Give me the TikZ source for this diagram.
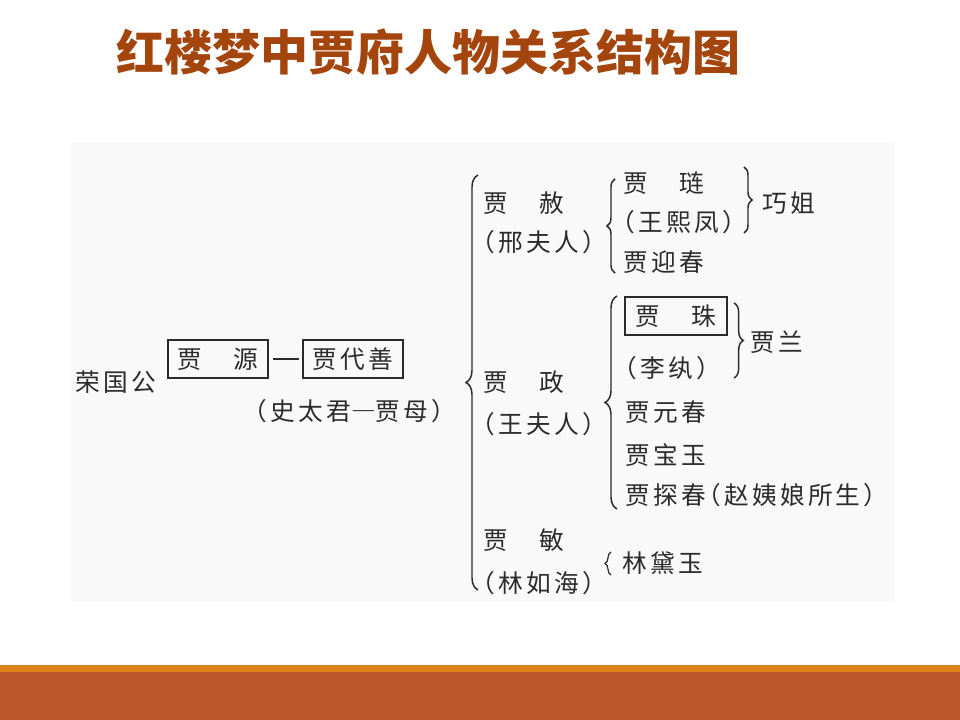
\documentclass[tikz,border=0pt]{standalone}
\usepackage{fontspec}
\newfontfamily\cjk[LetterSpace=13,RawFeature={+halt}]{Noto Sans CJK SC}
\newfontfamily\cjkfw[LetterSpace=13,RawFeature={+fwid}]{Noto Sans CJK SC}
\newfontfamily\cjktitle{Noto Sans CJK SC}
\usetikzlibrary{decorations.pathreplacing}
\definecolor{titlec}{HTML}{A4450E}
\definecolor{ink}{HTML}{2B2B2B}
\definecolor{bgpic}{HTML}{F9F9F9}
\definecolor{barO}{HTML}{E0841A}
\definecolor{barR}{HTML}{BD582C}
\tikzset{
  lbl/.style={font=\cjk\fontsize{18.5pt}{21pt}\selectfont, text=ink, inner sep=0pt, anchor=west},
  boxed/.style={font=\cjk\fontsize{18.5pt}{21pt}\selectfont, text=ink, draw=ink, line width=1.5pt, inner sep=0pt, minimum width=75pt, minimum height=28.5pt},
  brc/.style={decorate, decoration={brace, amplitude=#1}, draw=ink, line width=1.1pt},
  link/.style={draw=ink, line width=1.5pt}
}
\begin{document}
\begin{tikzpicture}[x=0.75pt,y=-0.75pt]
\useasboundingbox (0,0) rectangle (960,720);
\fill[white] (0,0) rectangle (960,720);
% bottom bars
\fill[barO] (0,665) rectangle (960,672);
\fill[barR] (0,672) rectangle (960,720);
% embedded picture background
\fill[bgpic] (71,142) rectangle (895,602);
% title
\node[font=\cjktitle\bfseries\fontsize{36pt}{40pt}\selectfont, text=titlec, inner sep=0pt] (title) at (428,52) {红楼梦中贾府人物关系结构图};

% generation 0-2
\node[lbl] (rongguo) at (75,382) {荣国公};
\node[boxed] (yuan) at (218,359) {贾　源};
\node[boxed] (daishan) at (353,359) {贾代善};
\draw[link, shorten <=3pt, shorten >=2pt] (yuan.east) -- (daishan.west);
\node[lbl] (muqin) at (255,411) {（史太君{\cjkfw —}贾母）};

% big brace
\coordinate (b1a) at (478,590);
\coordinate (b1b) at (478,175);
\draw[brc=9pt] (b1a) -- (b1b);

% Jia She branch
\node[lbl] (she) at (483,203) {贾　赦};
\node[lbl] (xing) at (483,242) {（邢夫人）};
\coordinate (b2a) at (615,273);
\coordinate (b2b) at (615,179);
\draw[brc=6pt] (b2a) -- (b2b);
\node[lbl] (lian) at (623,183) {贾　琏};
\node[lbl] (xifeng) at (623,222) {（王熙凤）};
\node[lbl] (yingchun) at (623,262) {贾迎春};
\coordinate (b3a) at (744,167);
\coordinate (b3b) at (744,233);
\draw[brc=6pt] (b3a) -- (b3b);
\node[lbl] (qiaojie) at (762,203) {巧姐};

% Jia Zheng branch
\node[lbl] (zheng) at (483,382) {贾　政};
\node[lbl] (wangfuren) at (483,424) {（王夫人）};
\coordinate (b4a) at (617,509);
\coordinate (b4b) at (617,296);
\draw[brc=9pt] (b4a) -- (b4b);
\node[boxed, minimum width=76.5pt] (zhu) at (676,316) {贾　珠};
\node[lbl] (liwan) at (625,368) {（李纨）};
\coordinate (b5a) at (734,303);
\coordinate (b5b) at (734,378);
\draw[brc=7pt] (b5a) -- (b5b);
\node[lbl] (jialan) at (750,342) {贾兰};
\node[lbl] (yuanchun) at (625,412) {贾元春};
\node[lbl] (baoyu) at (625,455) {贾宝玉};
\node[lbl] (tanchun) at (625,495) {贾探春（赵姨娘所生）};

% Jia Min branch
\node[lbl] (min) at (483,540) {贾　敏};
\node[lbl] (linruhai) at (483,583) {（林如海）};
\coordinate (b6a) at (611,575);
\coordinate (b6b) at (611,552);
\draw[brc=4.5pt, line width=0.9pt] (b6a) -- (b6b);
\node[lbl] (daiyu) at (622,563) {林黛玉};
\end{tikzpicture}
\end{document}
